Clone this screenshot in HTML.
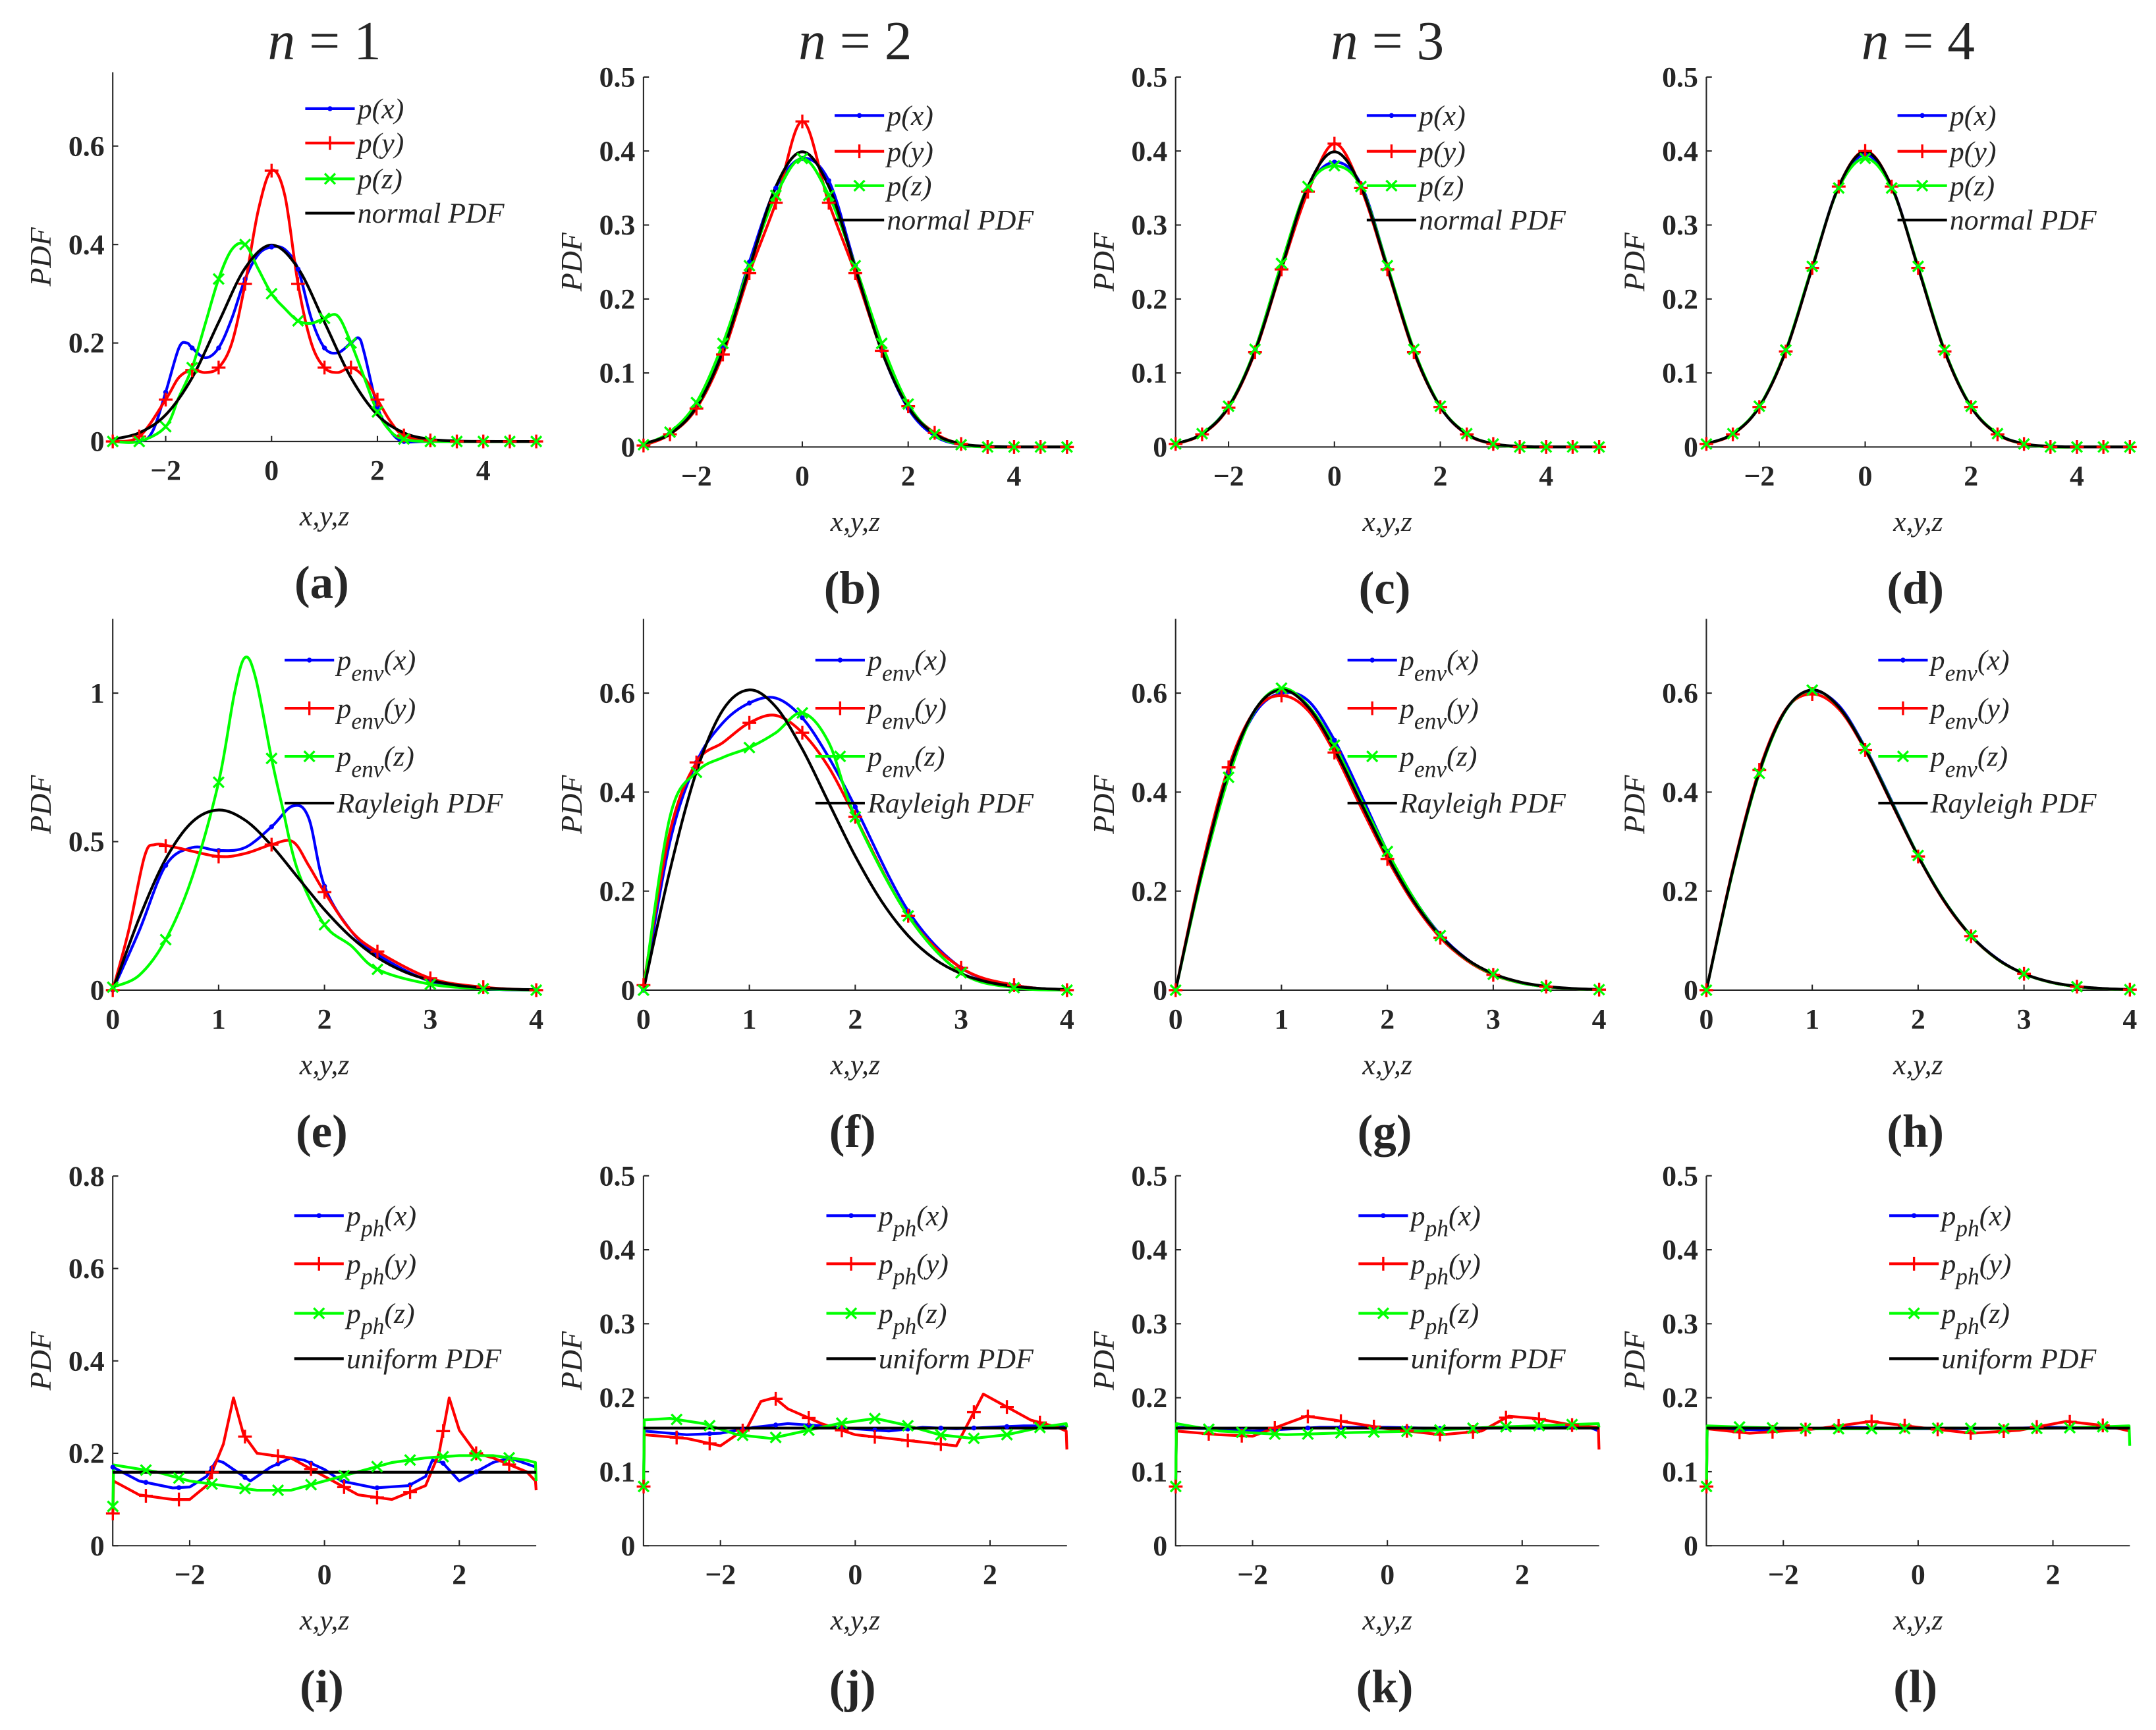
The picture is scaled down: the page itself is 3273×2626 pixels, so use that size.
<!DOCTYPE html>
<html><head><meta charset="utf-8">
<style>
html,body{margin:0;padding:0;background:#fff;}
svg{display:block;font-family:"Liberation Serif","DejaVu Serif",serif;}
text{font-family:"Liberation Serif","DejaVu Serif",serif;fill:#262626;}
.tk{font-weight:bold;font-size:21px;}
.it{font-style:italic;}
</style></head>
<body>
<svg id="fig" width="3273" height="2626" viewBox="0 0 1568 1258" font-family="Liberation Serif, DejaVu Serif, serif" xmlns="http://www.w3.org/2000/svg"></svg>
<script>
// ---------- data ----------
const N_X = [-3,-2.5,-2,-1.5,-1,-0.5,0,0.5,1,1.5,2,2.5,3,3.5,4,4.5,5];
const NORMAL_Y = [0.0044,0.0175,0.054,0.1295,0.242,0.352,0.399,0.352,0.242,0.1295,0.054,0.0175,0.0044,0.0009,0.0001,0,0];
const A_BLUE_X = [-3,-2.5,-2.25,-2,-1.75,-1.6,-1.5,-1.25,-1,-0.75,-0.5,-0.25,0,0.25,0.5,0.75,1,1.25,1.5,1.65,1.75,2,2.25,2.5,3,5];
const A_BLUE_Y = [0,0,0.02,0.1,0.19,0.2,0.19,0.17,0.19,0.25,0.33,0.38,0.395,0.39,0.35,0.25,0.19,0.18,0.2,0.21,0.18,0.07,0.02,0,0,0];
const A_RED_X = [-3,-2.5,-2,-1.75,-1.5,-1.25,-1,-0.75,-0.5,-0.25,0,0.25,0.5,0.75,1,1.25,1.5,1.75,2,2.25,2.5,3,3.5,5];
const A_RED_Y = [0,0.01,0.085,0.13,0.145,0.14,0.15,0.2,0.32,0.47,0.55,0.5,0.32,0.2,0.15,0.14,0.15,0.13,0.085,0.04,0.012,0.002,0,0];
const A_GREEN_X = [-3,-2.5,-2,-1.75,-1.5,-1.25,-1,-0.75,-0.5,-0.25,0,0.25,0.5,0.75,1,1.25,1.5,1.75,2,2.25,2.5,3,5];
const A_GREEN_Y = [0,0,0.03,0.09,0.15,0.24,0.33,0.39,0.4,0.35,0.3,0.27,0.245,0.24,0.25,0.255,0.2,0.13,0.06,0.02,0.005,0,0];
const B_BLUE_Y = [0.003,0.018,0.058,0.135,0.25,0.35,0.39,0.36,0.245,0.13,0.052,0.015,0.003,0,0,0,0];
const B_RED_Y = [0.002,0.017,0.052,0.125,0.235,0.33,0.44,0.33,0.235,0.13,0.055,0.019,0.004,0,0,0,0];
const B_GREEN_Y = [0.003,0.02,0.06,0.14,0.245,0.34,0.39,0.34,0.245,0.14,0.058,0.017,0.003,0,0,0,0];
const C_BLUE_Y = [0.004,0.018,0.055,0.13,0.245,0.35,0.385,0.355,0.245,0.13,0.054,0.017,0.004,0,0,0,0];
const C_RED_Y = [0.004,0.017,0.053,0.128,0.24,0.345,0.41,0.35,0.24,0.128,0.054,0.017,0.004,0,0,0,0];
const C_GREEN_Y = [0.004,0.018,0.055,0.132,0.248,0.352,0.38,0.352,0.245,0.132,0.055,0.018,0.004,0,0,0,0];
const D_BLUE_Y = [0.004,0.018,0.054,0.13,0.243,0.352,0.395,0.352,0.243,0.13,0.054,0.018,0.004,0,0,0,0];
const D_RED_Y = [0.004,0.017,0.054,0.129,0.242,0.352,0.4,0.352,0.242,0.129,0.054,0.017,0.004,0,0,0,0];
const D_GREEN_Y = [0.004,0.018,0.055,0.131,0.244,0.35,0.39,0.35,0.244,0.131,0.055,0.018,0.004,0,0,0,0];

const R_X = [0,0.25,0.5,0.75,1,1.25,1.5,1.75,2,2.25,2.5,2.75,3,3.25,3.5,3.75,4];
const RAYLEIGH_Y = [0,0.2423,0.4412,0.5661,0.6065,0.5722,0.487,0.3785,0.2707,0.1791,0.1098,0.0626,0.0333,0.0165,0.0076,0.0033,0.0013];
const E_BLUE_X = [0,0.25,0.5,0.75,1,1.25,1.5,1.7,1.85,2,2.25,2.5,3,3.5,4];
const E_BLUE_Y = [0,0.2,0.42,0.48,0.47,0.48,0.55,0.62,0.58,0.35,0.2,0.12,0.03,0.005,0];
const E_RED_X = [0,0.15,0.3,0.4,0.6,1,1.25,1.5,1.7,1.85,2,2.25,2.5,3,3.5,4];
const E_RED_Y = [0,0.2,0.45,0.49,0.48,0.45,0.46,0.49,0.5,0.42,0.33,0.2,0.13,0.04,0.01,0];
const E_GREEN_X = [0,0.25,0.5,0.75,1,1.15,1.25,1.35,1.5,1.6,1.75,2,2.25,2.5,3,3.5,4];
const E_GREEN_Y = [0.01,0.05,0.17,0.38,0.7,1.0,1.12,1.05,0.78,0.62,0.4,0.22,0.15,0.07,0.02,0.005,0];
const F_X = [0,0.25,0.5,0.75,1,1.25,1.5,1.75,2,2.5,3,3.5,4];
const F_BLUE_Y = [0,0.3,0.46,0.54,0.58,0.59,0.55,0.47,0.37,0.16,0.045,0.01,0];
const F_RED_Y = [0.01,0.32,0.46,0.5,0.54,0.555,0.52,0.45,0.35,0.15,0.045,0.01,0];
const F_GREEN_Y = [0,0.35,0.44,0.47,0.49,0.52,0.56,0.5,0.35,0.15,0.035,0.005,0];
const G_BLUE_Y = [0,0.24,0.44,0.56,0.6,0.585,0.505,0.395,0.28,0.185,0.112,0.063,0.032,0.015,0.007,0.003,0.001];
const G_RED_Y = [0,0.25,0.45,0.565,0.595,0.565,0.48,0.37,0.265,0.175,0.106,0.06,0.031,0.015,0.007,0.003,0.001];
const G_GREEN_Y = [0,0.235,0.43,0.565,0.61,0.575,0.495,0.385,0.28,0.185,0.11,0.062,0.032,0.015,0.007,0.003,0.001];
const H_BLUE_Y = [0,0.242,0.44,0.565,0.604,0.575,0.49,0.382,0.272,0.18,0.11,0.063,0.033,0.016,0.007,0.003,0.001];
const H_RED_Y = [0,0.245,0.445,0.567,0.598,0.568,0.485,0.377,0.27,0.178,0.109,0.062,0.033,0.016,0.007,0.003,0.001];
const H_GREEN_Y = [0,0.24,0.438,0.565,0.606,0.572,0.488,0.38,0.272,0.18,0.11,0.062,0.033,0.016,0.007,0.003,0.001];

const U_X = [-3.14,3.14];
const UNIFORM_Y = [0.159,0.159];
const I_BLUE_X = [-3.14,-2.75,-2.25,-2,-1.75,-1.6,-1.5,-1.3,-1.1,-0.8,-0.5,-0.3,0,0.25,0.75,1.25,1.5,1.6,1.75,2,2.5,2.75,3.14];
const I_BLUE_Y = [0.17,0.14,0.125,0.127,0.15,0.185,0.18,0.16,0.14,0.17,0.19,0.185,0.165,0.14,0.125,0.13,0.15,0.185,0.18,0.14,0.18,0.19,0.17];
const I_RED_X = [-3.14,-3.13,-2.75,-2.25,-2,-1.75,-1.5,-1.35,-1.2,-1,-0.5,-0.25,0,0.5,1,1.5,1.7,1.85,2,2.25,2.5,3,3.13,3.14];
const I_RED_Y = [0.07,0.14,0.11,0.1,0.1,0.13,0.22,0.32,0.24,0.2,0.19,0.17,0.15,0.11,0.1,0.13,0.2,0.32,0.25,0.2,0.19,0.16,0.14,0.12];
const I_GREEN_X = [-3.14,-3.13,-2.5,-2,-1.5,-1,-0.5,0,0.5,1,1.5,2,2.5,3,3.13,3.14];
const I_GREEN_Y = [0.085,0.175,0.16,0.14,0.13,0.12,0.12,0.14,0.16,0.18,0.19,0.195,0.195,0.185,0.18,0.14];
const J_BLUE_X = [-3.14,-3.13,-2.5,-2,-1.5,-1,-0.5,0,0.5,1,1.5,2,2.5,3,3.14];
const J_BLUE_Y = [0.08,0.155,0.15,0.152,0.16,0.165,0.162,0.158,0.155,0.16,0.158,0.16,0.162,0.162,0.16];
const J_RED_X = [-3.14,-3.13,-2.5,-2,-1.6,-1.4,-1.2,-1,-0.5,0,0.5,1,1.5,1.7,1.9,2.2,2.6,3,3.13,3.14];
const J_RED_Y = [0.08,0.15,0.145,0.135,0.16,0.195,0.2,0.185,0.165,0.15,0.145,0.14,0.135,0.17,0.205,0.19,0.17,0.16,0.155,0.13];
const J_GREEN_X = [-3.14,-3.13,-2.75,-2.25,-1.75,-1.25,-0.75,-0.25,0.3,0.75,1.25,1.75,2.25,2.75,3.13,3.14];
const J_GREEN_Y = [0.08,0.17,0.172,0.165,0.15,0.145,0.155,0.165,0.172,0.163,0.15,0.145,0.15,0.16,0.165,0.16];
const K_BLUE_X = [-3.14,-3.13,-2,-1,0,1,2,3,3.14];
const K_BLUE_Y = [0.08,0.16,0.155,0.16,0.16,0.158,0.16,0.16,0.155];
const K_RED_X = [-3.14,-3.13,-2.5,-2,-1.5,-1.2,-0.8,0,0.8,1.4,1.8,2.2,2.8,3.13,3.14];
const K_RED_Y = [0.08,0.155,0.15,0.148,0.165,0.175,0.17,0.158,0.15,0.155,0.175,0.172,0.162,0.16,0.13];
const K_GREEN_X = [-3.14,-3.13,-2.5,-1.5,-0.5,0.5,1.5,2.5,3.13,3.14];
const K_GREEN_Y = [0.08,0.165,0.155,0.15,0.153,0.155,0.16,0.163,0.165,0.16];
const L_BLUE_X = [-3.14,-3.13,-2,-1,0,1,2,3,3.14];
const L_BLUE_Y = [0.08,0.158,0.156,0.16,0.158,0.158,0.16,0.159,0.155];
const L_RED_X = [-3.14,-3.13,-2.5,-1.5,-0.7,0,0.8,1.5,2.2,2.8,3.14];
const L_RED_Y = [0.08,0.158,0.152,0.158,0.168,0.16,0.152,0.156,0.168,0.162,0.155];
const L_GREEN_X = [-3.14,-3.13,-2.5,-1.5,-0.5,0.5,1.5,2.5,3.13,3.14];
const L_GREEN_Y = [0.08,0.162,0.16,0.158,0.158,0.159,0.158,0.16,0.162,0.135];

const ROW1_XTICKS = [-2,0,2,4];
const ROW2_XTICKS = [0,1,2,3,4];
const ROW3_XTICKS = [-2,0,2];
const A_YTICKS = [0,0.2,0.4,0.6];
const HALF_YTICKS = [0,0.1,0.2,0.3,0.4,0.5];
const E_YTICKS = [0,0.5,1];
const ROW2_YTICKS = [0,0.2,0.4,0.6];
const I_YTICKS = [0,0.2,0.4,0.6,0.8];
const PANEL_LETTERS = ['a','b','c','d','e','f','g','h','i','j','k','l'];
const TITLES = ['1','2','3','4'];

// ---------- drawing ----------
const NS='http://www.w3.org/2000/svg';
const svg=document.getElementById('fig');
function mk(tag,attrs,parent){const e=document.createElementNS(NS,tag);for(const k in attrs)e.setAttribute(k,attrs[k]);(parent||svg).appendChild(e);return e;}
const colLeft=[82,468,855,1241];
const W=308;
const BLUE='#0000ff',RED='#ff0000',GREEN='#00ff00';
const FF='Liberation Serif, DejaVu Serif, serif';

function crPath(pts){
  let d='M'+pts[0][0].toFixed(2)+','+pts[0][1].toFixed(2);
  for(let i=0;i<pts.length-1;i++){
    const p0=pts[Math.max(0,i-1)],p1=pts[i],p2=pts[i+1],p3=pts[Math.min(pts.length-1,i+2)];
    const c1=[p1[0]+(p2[0]-p0[0])/6,p1[1]+(p2[1]-p0[1])/6];
    const c2=[p2[0]-(p3[0]-p1[0])/6,p2[1]-(p3[1]-p1[1])/6];
    d+=' C'+c1[0].toFixed(2)+','+c1[1].toFixed(2)+' '+c2[0].toFixed(2)+','+c2[1].toFixed(2)+' '+p2[0].toFixed(2)+','+p2[1].toFixed(2);
  }
  return d;
}
function linPath(pts){return 'M'+pts.map(p=>p[0].toFixed(2)+','+p[1].toFixed(2)).join(' L');}
function interp(xs,ys,x){
  if(x<=xs[0])return ys[0];
  for(let i=0;i<xs.length-1;i++){if(x<=xs[i+1]){const t=(x-xs[i])/(xs[i+1]-xs[i]);return ys[i]+t*(ys[i+1]-ys[i]);}}
  return ys[ys.length-1];
}
function marker(g,kind,x,y,col){
  if(kind==='dot'){const c=mk('circle',{cx:x,cy:y,r:1.8,fill:col},g);}
  else if(kind==='plus'){const p=mk('path',{d:`M${x-5},${y}H${x+5}M${x},${y-5}V${y+5}`,stroke:col,'stroke-width':1.6,fill:'none'},g);}
  else if(kind==='x'){const p=mk('path',{d:`M${x-3.8},${y-3.8}L${x+3.8},${y+3.8}M${x-3.8},${y+3.8}L${x+3.8},${y-3.8}`,stroke:col,'stroke-width':1.6,fill:'none'},g);}
}

function panel(cfg){
  const g=mk('g',{});
  
  
  const L=cfg.left, y0=cfg.y0;
  const sx=W/(cfg.xmax-cfg.xmin);
  const X=v=>L+(v-cfg.xmin)*sx;
  const Y=v=>y0-v*cfg.sy;
  const top=Y(cfg.ymax);
  const ax=mk('path',{d:`M${L},${top}V${y0}H${L+W}`,stroke:'#262626','stroke-width':1,fill:'none'},g);
  
  cfg.yticks.forEach(v=>{
    const t=mk('path',{d:`M${L},${Y(v)}h4`,stroke:'#262626','stroke-width':1},g);
    
    const tx=mk('text',{x:L-6,y:Y(v)+7,'text-anchor':'end',class:'tk','font-family':FF},g);
    tx.textContent=String(v);
    
  });
  cfg.xticks.forEach(v=>{
    const t=mk('path',{d:`M${X(v)},${y0}v-4`,stroke:'#262626','stroke-width':1},g);
    
    const tx=mk('text',{x:X(v),y:y0+28,'text-anchor':'middle',class:'tk','font-family':FF},g);
    tx.textContent=v<0?'\u2212'+(-v):String(v);
    
  });
  const xl=mk('text',{x:L+154,y:y0+61,'text-anchor':'middle',class:'it','font-size':21,'font-family':FF},g);
  xl.textContent='x,y,z';
  const cy=(top+y0)/2;
  const yl=mk('text',{x:0,y:0,'text-anchor':'middle',class:'it','font-size':22,'font-family':FF,transform:`translate(${L-45},${cy}) rotate(-90)`},g);
  yl.textContent='PDF';
  const pl=mk('text',{x:L+152,y:y0+114,'text-anchor':'middle','font-size':34,'font-weight':'bold','font-family':FF},g);
  pl.textContent='('+cfg.letter+')';
  const series=[
    {xs:cfg.bx,ys:cfg.by,col:BLUE,m:'dot',name:'series-x'},
    {xs:cfg.rx,ys:cfg.ry,col:RED,m:'plus',name:'series-y'},
    {xs:cfg.gx,ys:cfg.gy,col:GREEN,m:'x',name:'series-z'}
  ];
  const pathFn=cfg.linear?linPath:crPath;
  series.forEach(s=>{
    const pts=s.xs.map((x,i)=>[X(x),Y(s.ys[i])]);
    const p=mk('path',{d:pathFn(pts),stroke:s.col,'stroke-width':2,fill:'none','stroke-linejoin':'round'},g);
    
  });
  const th=mk('path',{d:pathFn(cfg.tx.map((x,i)=>[X(x),Y(cfg.ty[i])])),stroke:'#000','stroke-width':2,fill:'none'},g);
  
  series.forEach(s=>{
    for(let x=cfg.mstart;x<=cfg.xmax+1e-6;x+=cfg.mstep){
      marker(g,s.m,X(x),Y(interp(s.xs,s.ys,x)),s.col);
    }
  });
  const lx=L+cfg.legDx;
  cfg.legLabels.forEach((lab,i)=>{
    const ly=cfg.legY[i];
    const col=[BLUE,RED,GREEN,'#000'][i];
    const ln=mk('path',{d:`M${lx},${ly}h36`,stroke:col,'stroke-width':2},g);
    
    if(i<3)marker(g,['dot','plus','x'][i],lx+18,ly,col);
    const t=mk('text',{x:lx+38,y:ly+7,class:'it','font-size':21,'font-family':FF},g);
    
    if(lab.sub){
      const a=mk('tspan',{},t);a.textContent=lab.base;
      const b=mk('tspan',{dy:8,'font-size':17},t);b.textContent=lab.sub;
      const c=mk('tspan',{dy:-8},t);c.textContent=lab.arg;
    } else t.textContent=lab.base;
  });
}

function legSet(sub,last){
  const args=['(x)','(y)','(z)'];
  const arr=args.map(a=>sub?{base:'p',sub:sub,arg:a}:{base:'p'+a});
  arr.push({base:last});return arr;
}

TITLES.forEach((t,i)=>{
  const tx=mk('text',{x:colLeft[i]+154,y:43,'text-anchor':'middle','font-size':40,'font-family':FF});
  
  const a=mk('tspan',{'font-style':'italic'},tx);a.textContent='n';
  const b=mk('tspan',{},tx);b.textContent=' = '+t;
});

const row1Leg=[79,104,130,155], row1LegB=[84,110,135,160];
const row2Leg=[480,515,550,584];
const row3Leg=[884,919,955,988];
const r1=[
  {bx:A_BLUE_X,by:A_BLUE_Y,rx:A_RED_X,ry:A_RED_Y,gx:A_GREEN_X,gy:A_GREEN_Y,y0:321,sy:358,ymax:0.75,yt:A_YTICKS,lg:row1Leg},
  {bx:N_X,by:B_BLUE_Y,rx:N_X,ry:B_RED_Y,gx:N_X,gy:B_GREEN_Y,y0:325,sy:538,ymax:0.5,yt:HALF_YTICKS,lg:row1LegB},
  {bx:N_X,by:C_BLUE_Y,rx:N_X,ry:C_RED_Y,gx:N_X,gy:C_GREEN_Y,y0:325,sy:538,ymax:0.5,yt:HALF_YTICKS,lg:row1LegB},
  {bx:N_X,by:D_BLUE_Y,rx:N_X,ry:D_RED_Y,gx:N_X,gy:D_GREEN_Y,y0:325,sy:538,ymax:0.5,yt:HALF_YTICKS,lg:row1LegB}
];
r1.forEach((c,i)=>panel({letter:PANEL_LETTERS[i],left:colLeft[i],y0:c.y0,sy:c.sy,ymax:c.ymax,xmin:-3,xmax:5,
  xticks:ROW1_XTICKS,yticks:c.yt,bx:c.bx,by:c.by,rx:c.rx,ry:c.ry,gx:c.gx,gy:c.gy,tx:N_X,ty:NORMAL_Y,
  mstart:-3,mstep:0.5,legDx:i===0?140:139,legY:c.lg,legLabels:legSet(null,'normal PDF')}));
const r2=[
  {bx:E_BLUE_X,by:E_BLUE_Y,rx:E_RED_X,ry:E_RED_Y,gx:E_GREEN_X,gy:E_GREEN_Y,sy:216,ymax:1.25,yt:E_YTICKS},
  {bx:F_X,by:F_BLUE_Y,rx:F_X,ry:F_RED_Y,gx:F_X,gy:F_GREEN_Y,sy:360,ymax:0.75,yt:ROW2_YTICKS},
  {bx:R_X,by:G_BLUE_Y,rx:R_X,ry:G_RED_Y,gx:R_X,gy:G_GREEN_Y,sy:360,ymax:0.75,yt:ROW2_YTICKS},
  {bx:R_X,by:H_BLUE_Y,rx:R_X,ry:H_RED_Y,gx:R_X,gy:H_GREEN_Y,sy:360,ymax:0.75,yt:ROW2_YTICKS}
];
r2.forEach((c,i)=>panel({letter:PANEL_LETTERS[4+i],left:colLeft[i],y0:720,sy:c.sy,ymax:c.ymax,xmin:0,xmax:4,
  xticks:ROW2_XTICKS,yticks:c.yt,bx:c.bx,by:c.by,rx:c.rx,ry:c.ry,gx:c.gx,gy:c.gy,tx:R_X,ty:RAYLEIGH_Y,
  mstart:0,mstep:0.5,legDx:125,legY:row2Leg,legLabels:legSet('env','Rayleigh PDF')}));
const r3=[
  {bx:I_BLUE_X,by:I_BLUE_Y,rx:I_RED_X,ry:I_RED_Y,gx:I_GREEN_X,gy:I_GREEN_Y,sy:336,ymax:0.8,yt:I_YTICKS},
  {bx:J_BLUE_X,by:J_BLUE_Y,rx:J_RED_X,ry:J_RED_Y,gx:J_GREEN_X,gy:J_GREEN_Y,sy:538,ymax:0.5,yt:HALF_YTICKS},
  {bx:K_BLUE_X,by:K_BLUE_Y,rx:K_RED_X,ry:K_RED_Y,gx:K_GREEN_X,gy:K_GREEN_Y,sy:538,ymax:0.5,yt:HALF_YTICKS},
  {bx:L_BLUE_X,by:L_BLUE_Y,rx:L_RED_X,ry:L_RED_Y,gx:L_GREEN_X,gy:L_GREEN_Y,sy:538,ymax:0.5,yt:HALF_YTICKS}
];
r3.forEach((c,i)=>panel({letter:PANEL_LETTERS[8+i],left:colLeft[i],y0:1124,sy:c.sy,ymax:c.ymax,xmin:-3.1416,xmax:3.1416,
  xticks:ROW3_XTICKS,yticks:c.yt,bx:c.bx,by:c.by,rx:c.rx,ry:c.ry,gx:c.gx,gy:c.gy,tx:U_X,ty:UNIFORM_Y,linear:true,
  mstart:-3.14,mstep:0.49,legDx:i===0?132:133,legY:row3Leg,legLabels:legSet('ph','uniform PDF')}));
</script>
</body></html>
